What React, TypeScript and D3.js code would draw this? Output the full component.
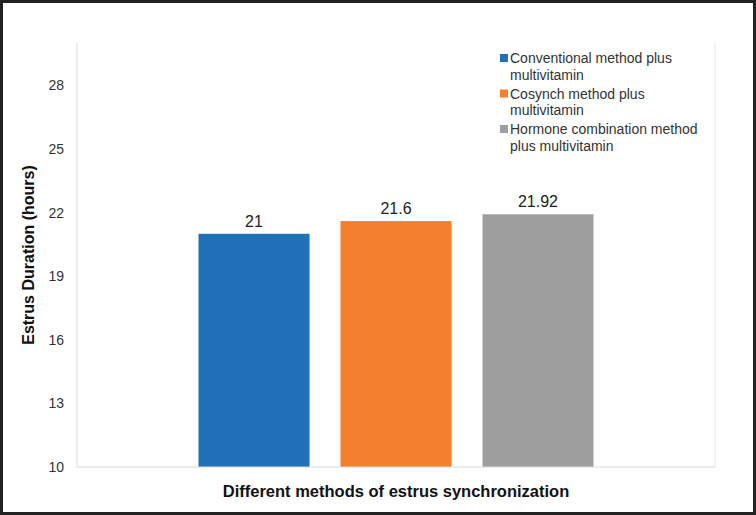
import * as React from 'react'
import * as d3 from 'd3'

const series = [
  'Conventional method plus multivitamin',
  'Cosynch method plus multivitamin',
  'Hormone combination method plus multivitamin',
]
const values = [21, 21.6, 21.92]
const valueLabels = ['21', '21.6', '21.92']
const colors = ['#2171b9', '#f47f2f', '#9e9e9e']
const legendLines = [
  ['Conventional method plus', 'multivitamin'],
  ['Cosynch method plus', 'multivitamin'],
  ['Hormone combination method', 'plus multivitamin'],
]
const yTicks = [10, 13, 16, 19, 22, 25, 28]

const W = 756
const H = 515
const font = 'Liberation Sans, Arial, sans-serif'

const App = () => {
  const left = 77
  const right = 715
  const top = 43
  const bottom = 467

  const y = d3.scaleLinear().domain([10, 30]).range([bottom, top])
  // one category holding three series bars
  const groupX = d3.scaleBand().domain(['g']).range([left, right]).paddingInner(0).paddingOuter(0.3076)
  const x = d3.scaleBand().domain(series).range([groupX('g')!, groupX('g')! + groupX.bandwidth()]).paddingInner(0.218)

  return (
    <svg width={W} height={H} style={{position: 'absolute', left: 0, top: 0}}>
      <rect x={1.5} y={1.5} width={W - 3} height={H - 3} fill="#fff" stroke="#222" strokeWidth={3} />
      {yTicks.map((t) => (
        <text key={t} x={64} y={y(t)} dy="0.35em" textAnchor="end" fontSize={14} fill="#333" fontFamily={font}>
          {t}
        </text>
      ))}
      <line x1={left} x2={left} y1={top} y2={bottom} stroke="#d9d9d9" />
      <line x1={right} x2={right} y1={top} y2={bottom} stroke="#e6e6e6" />
      {series.map((s, i) => (
        <g key={s}>
          <rect x={x(s)} y={y(values[i])} width={x.bandwidth()} height={bottom - y(values[i])} fill={colors[i]} />
          <text x={x(s)! + x.bandwidth() / 2} y={y(values[i]) - 7} textAnchor="middle" fontSize={16} fill="#222" fontFamily={font}>
            {valueLabels[i]}
          </text>
        </g>
      ))}
      <line x1={left} x2={right} y1={bottom} y2={bottom} stroke="#d9d9d9" />
      {legendLines.map((lines, i) => (
        <g key={i} transform={`translate(500, ${63 + i * 35.5})`}>
          <rect x={0} y={-9} width={8} height={8} fill={colors[i]} />
          {lines.map((l, j) => (
            <text key={j} x={10} y={j * 16.5} fontSize={14} fill="#333" fontFamily={font}>
              {l}
            </text>
          ))}
        </g>
      ))}
      <text
        transform={`translate(34, ${(top + bottom) / 2}) rotate(-90)`}
        textAnchor="middle"
        fontSize={16}
        fontWeight="bold"
        fill="#111"
        fontFamily={font}
      >
        Estrus Duration (hours)
      </text>
      <text x={(left + right) / 2} y={497} textAnchor="middle" fontSize={16.5} fontWeight="bold" fill="#111" fontFamily={font}>
        Different methods of estrus synchronization
      </text>
    </svg>
  )
}

export default App
